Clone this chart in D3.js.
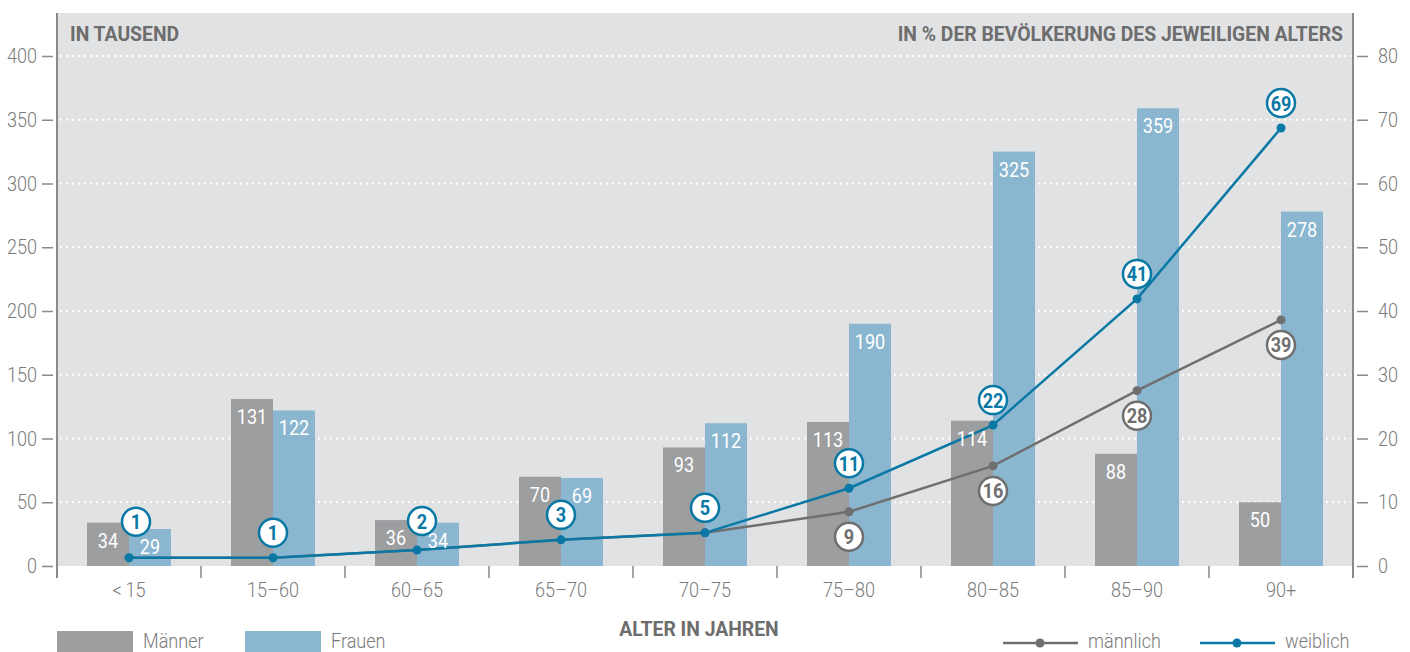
<!DOCTYPE html>
<html><head><meta charset="utf-8">
<script src="https://cdn.jsdelivr.net/npm/d3@7"></script>
<style>
html,body{margin:0;padding:0;background:#fff;}
svg{display:block;font-family:Roboto,"Liberation Sans",sans-serif;}
</style></head>
<body>
<svg id="c" width="1410" height="652"></svg>
<script>
const categories = ["<\u200915","15–60","60–65","65–70","70–75","75–80","80–85","85–90","90+"];
const maenner = [34,131,36,70,93,113,114,88,50];
const frauen  = [29,122,34,69,112,190,325,359,278];
const maennlichPct = [1.3,1.3,2.5,4.1,5.2,8.5,15.7,27.5,38.6];
const weiblichPct  = [1.3,1.3,2.5,4.1,5.2,12.2,22.1,41.9,68.7];
const maennlichLabels = [null,null,null,null,null,"9","16","28","39"];
const weiblichLabels  = ["1","1","2","3","5","11","22","41","69"];
const leftTicks = [0,50,100,150,200,250,300,350,400];
const rightTicks = [0,10,20,30,40,50,60,70,80];

const C = {bg:"#e1e2e4", gray:"#9d9ea0", blue:"#8ab6d0", lineBlue:"#0a78a5", lineGray:"#6f6f70", text:"#7a7a7a", title:"#6d6d6d"};
const svg = d3.select("#c");
const L=57, R=1353, T=13, B=566;

const x = d3.scaleBand().domain(categories).range([L,R]).padding(0);
const yL = d3.scaleLinear().domain([0,400]).range([B,56]);
const yR = d3.scaleLinear().domain([0,80]).range([B,56]);
const bw = 42;

svg.append("rect").attr("x",L).attr("y",T).attr("width",R-L).attr("height",B-T).attr("fill",C.bg);

// gridlines
svg.append("g").selectAll("line").data(leftTicks.filter(d=>d>0)).join("line")
  .attr("x1",L+3).attr("x2",R-2).attr("y1",d=>yL(d)).attr("y2",d=>yL(d))
  .attr("stroke","#fff").attr("stroke-width",2).attr("stroke-dasharray","2,4");

// bars
const idx = d3.range(categories.length);
svg.append("g").selectAll("rect").data(idx).join("rect")
  .attr("x",i=>x(categories[i])+x.bandwidth()/2-bw).attr("width",bw)
  .attr("y",i=>yL(maenner[i])).attr("height",i=>B-yL(maenner[i])).attr("fill",C.gray);
svg.append("g").selectAll("rect").data(idx).join("rect")
  .attr("x",i=>x(categories[i])+x.bandwidth()/2).attr("width",bw)
  .attr("y",i=>yL(frauen[i])).attr("height",i=>B-yL(frauen[i])).attr("fill",C.blue);

// axes
const axL = svg.append("g").attr("transform",`translate(${L-4},0)`)
  .call(d3.axisLeft(yL).tickValues(leftTicks).tickSize(11).tickPadding(5));
const axR = svg.append("g").attr("transform",`translate(${R+4},0)`)
  .call(d3.axisRight(yR).tickValues(rightTicks).tickSize(11).tickPadding(10));
[axL,axR].forEach(a=>{
  a.attr("font-family",null).attr("font-size",null);
  a.select(".domain").remove();
  a.selectAll("line").attr("stroke","#8a8a8a").attr("stroke-width",1.5);
  a.selectAll("text").attr("fill",C.text).attr("font-size",21).attr("font-weight",300);
});
svg.append("line").attr("x1",L).attr("x2",L).attr("y1",T).attr("y2",578).attr("stroke","#8a8a8a").attr("stroke-width",2);
svg.append("line").attr("x1",R).attr("x2",R).attr("y1",T).attr("y2",578).attr("stroke","#8a8a8a").attr("stroke-width",2);
const axB = svg.append("g").attr("transform",`translate(0,${B})`)
  .call(d3.axisBottom(x).tickSize(0).tickPadding(16));
axB.attr("font-family",null).attr("font-size",null);
axB.select(".domain").remove();
axB.selectAll("text").attr("fill",C.text).attr("font-size",21).attr("font-weight",300);
svg.append("g").selectAll("line").data(categories.slice(1)).join("line")
  .attr("x1",d=>x(d)).attr("x2",d=>x(d)).attr("y1",B).attr("y2",578)
  .attr("stroke","#8a8a8a").attr("stroke-width",1.5);

// lines
const line = arr => d3.line().x((d,i)=>x(categories[i])+x.bandwidth()/2).y(d=>yR(d))(arr);
svg.append("path").attr("d",line(maennlichPct)).attr("fill","none").attr("stroke",C.lineGray).attr("stroke-width",2.5);
svg.append("path").attr("d",line(weiblichPct)).attr("fill","none").attr("stroke",C.lineBlue).attr("stroke-width",2.5);
svg.append("g").selectAll("circle").data(idx.slice(4)).join("circle")
  .attr("cx",i=>x(categories[i])+x.bandwidth()/2).attr("cy",i=>yR(maennlichPct[i])).attr("r",4.5).attr("fill",C.lineGray);
svg.append("g").selectAll("circle").data(idx).join("circle")
  .attr("cx",i=>x(categories[i])+x.bandwidth()/2).attr("cy",i=>yR(weiblichPct[i])).attr("r",4.5).attr("fill",C.lineBlue);

// bar labels
svg.append("g").selectAll("text").data(idx).join("text")
  .attr("x",i=>x(categories[i])+x.bandwidth()/2-bw/2).attr("y",i=>yL(maenner[i])+25)
  .attr("text-anchor","middle").attr("fill","#fff").attr("font-size",21).text(i=>maenner[i]);
svg.append("g").selectAll("text").data(idx).join("text")
  .attr("x",i=>x(categories[i])+x.bandwidth()/2+bw/2).attr("y",i=>yL(frauen[i])+25)
  .attr("text-anchor","middle").attr("fill","#fff").attr("font-size",21).text(i=>frauen[i]);

// circle labels
function bubbles(labels, vals, color, dir){
  const g = svg.append("g");
  idx.filter(i=>labels[i]!==null).forEach(i=>{
    let cx = x(categories[i])+x.bandwidth()/2;
    let off = 25;
    if(dir<0 && i===0){off=36; cx+=7;}
    if(dir<0 && i===2){off=29; cx+=5;}
    const cy = yR(vals[i]) + dir*off;
    g.append("circle").attr("cx",cx).attr("cy",cy).attr("r",14)
      .attr("fill","#fff").attr("stroke",color).attr("stroke-width",2.5);
    g.append("text").attr("x",cx).attr("y",cy+7.5).attr("text-anchor","middle")
      .attr("fill",color).attr("font-size",21).attr("font-weight","bold").text(labels[i]);
  });
}
bubbles(maennlichLabels, maennlichPct, C.lineGray, 1);
bubbles(weiblichLabels, weiblichPct, C.lineBlue, -1);

// titles
const titleOpts = t => t.attr("fill",C.title).attr("font-size",21).attr("font-weight","bold").attr("data-sq","0.92");
titleOpts(svg.append("text").attr("x",70).attr("y",41)).text("IN TAUSEND");
titleOpts(svg.append("text").attr("x",1343).attr("y",41).attr("text-anchor","end")).text("IN % DER BEVÖLKERUNG DES JEWEILIGEN ALTERS");
titleOpts(svg.append("text").attr("x",699).attr("y",636).attr("text-anchor","middle")).text("ALTER IN JAHREN");

// legend
const lg = svg.append("g");
[["Männer",C.gray,57],["Frauen",C.blue,245]].forEach(([t,c,x0])=>{
  lg.append("rect").attr("x",x0).attr("y",631).attr("width",76).attr("height",21).attr("fill",c);
  lg.append("text").attr("x",x0+86).attr("y",648).attr("fill",C.text).attr("font-size",21).attr("font-weight",300).text(t);
});
[["männlich",C.lineGray,1003],["weiblich",C.lineBlue,1200]].forEach(([t,c,x0])=>{
  lg.append("line").attr("x1",x0).attr("x2",x0+75).attr("y1",643).attr("y2",643).attr("stroke",c).attr("stroke-width",2.5);
  lg.append("circle").attr("cx",x0+37).attr("cy",643).attr("r",4.5).attr("fill",c);
  lg.append("text").attr("x",x0+85).attr("y",648).attr("fill",C.text).attr("font-size",21).attr("font-weight",300).text(t);
});

// condensed look: squeeze glyphs horizontally
svg.selectAll("text").each(function(){
  const w = this.getComputedTextLength();
  const f = +(this.getAttribute("data-sq") || 0.86);
  if(w>0){ this.setAttribute("textLength", (w*f).toFixed(1)); this.setAttribute("lengthAdjust","spacingAndGlyphs"); }
});
</script>
</body></html>
